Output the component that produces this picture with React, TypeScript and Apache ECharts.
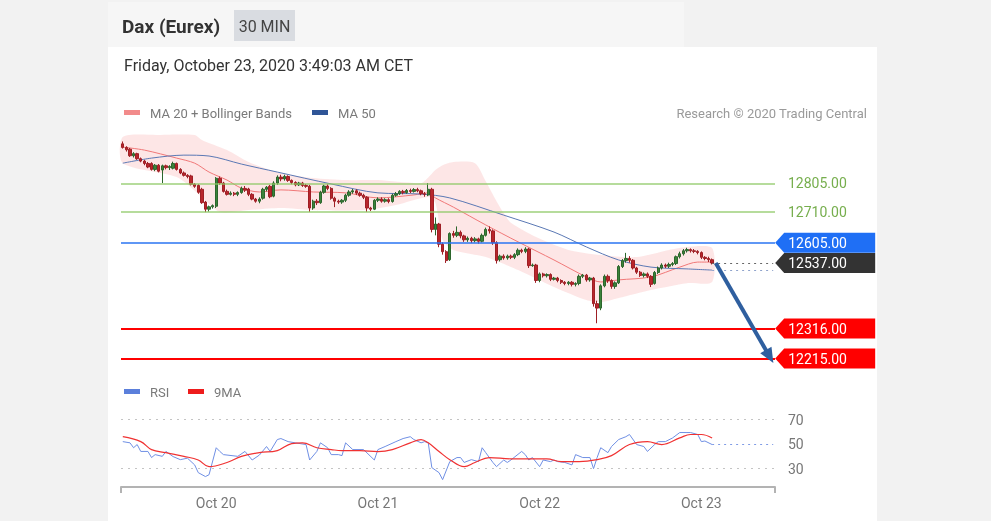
import React, { useEffect, useRef } from 'react';
import * as echarts from 'echarts';

const FONT = 'Roboto, "Liberation Sans", Arial, sans-serif';

const instrument = 'Dax (Eurex)';
const timeframe = '30 MIN';
const timestamp = 'Friday, October 23, 2020 3:49:03 AM CET';
const copyright = 'Research © 2020 Trading Central';
const mainLegend = ['MA 20 + Bollinger Bands', 'MA 50'];
const rsiLegend = ['RSI', '9MA'];

const dayLabels = ['Oct 20', 'Oct 21', 'Oct 22', 'Oct 23'];
const dayStartIndex = [26, 71, 116, 161];
const CATEGORY_COUNT = 182;

// [open, close, low, high] per 30-min bar
const candles: number[][] = [
  [12938, 12926, 12922, 12946], [12926, 12918, 12912, 12930], [12920, 12898, 12894, 12924], [12898, 12905, 12892, 12910],
  [12905, 12888, 12884, 12908], [12888, 12880, 12876, 12892], [12880, 12872, 12866, 12884], [12872, 12860, 12856, 12877],
  [12872, 12852, 12848, 12876], [12852, 12866, 12846, 12870], [12866, 12846, 12842, 12870], [12850, 12864, 12806, 12868],
  [12864, 12858, 12852, 12868], [12858, 12862, 12850, 12866], [12856, 12872, 12852, 12878], [12872, 12852, 12848, 12875],
  [12852, 12840, 12836, 12856], [12840, 12832, 12828, 12845], [12832, 12828, 12822, 12836], [12830, 12802, 12798, 12834],
  [12802, 12795, 12790, 12806], [12798, 12775, 12770, 12802], [12785, 12740, 12736, 12790], [12742, 12718, 12708, 12746],
  [12718, 12726, 12710, 12730], [12726, 12730, 12720, 12734], [12728, 12822, 12722, 12826], [12822, 12806, 12800, 12828],
  [12806, 12778, 12774, 12810], [12778, 12768, 12764, 12784], [12768, 12772, 12764, 12778], [12772, 12768, 12762, 12776],
  [12768, 12774, 12762, 12778], [12774, 12788, 12770, 12794], [12788, 12782, 12776, 12796], [12786, 12768, 12762, 12790],
  [12768, 12752, 12748, 12772], [12752, 12745, 12740, 12756], [12745, 12752, 12738, 12758], [12755, 12785, 12750, 12790],
  [12785, 12792, 12778, 12796], [12795, 12760, 12755, 12800], [12762, 12806, 12758, 12812], [12806, 12826, 12800, 12832],
  [12826, 12820, 12812, 12834], [12820, 12828, 12814, 12834], [12828, 12815, 12810, 12832], [12815, 12808, 12802, 12818],
  [12808, 12800, 12795, 12812], [12800, 12806, 12796, 12810], [12806, 12798, 12793, 12810], [12798, 12795, 12790, 12803],
  [12795, 12722, 12709, 12800], [12722, 12745, 12716, 12750], [12745, 12740, 12732, 12752], [12740, 12775, 12736, 12780],
  [12775, 12796, 12770, 12800], [12796, 12788, 12782, 12802], [12788, 12755, 12750, 12792], [12755, 12745, 12725, 12760],
  [12745, 12742, 12736, 12750], [12742, 12748, 12736, 12752], [12748, 12765, 12742, 12770], [12765, 12776, 12760, 12782],
  [12776, 12780, 12770, 12786], [12780, 12772, 12766, 12785], [12772, 12765, 12760, 12777], [12765, 12758, 12752, 12770],
  [12758, 12722, 12709, 12762], [12722, 12718, 12712, 12726], [12718, 12748, 12715, 12752], [12748, 12752, 12742, 12758],
  [12752, 12745, 12740, 12758], [12745, 12750, 12740, 12755], [12750, 12744, 12738, 12755], [12744, 12765, 12740, 12770],
  [12765, 12770, 12760, 12776], [12770, 12778, 12766, 12782], [12778, 12774, 12768, 12783], [12774, 12781, 12770, 12786],
  [12781, 12778, 12772, 12787], [12778, 12784, 12774, 12789], [12784, 12780, 12775, 12790], [12780, 12770, 12765, 12784],
  [12770, 12768, 12760, 12776], [12766, 12785, 12762, 12806], [12785, 12650, 12640, 12790], [12650, 12668, 12630, 12690],
  [12668, 12600, 12590, 12672], [12600, 12575, 12565, 12606], [12575, 12545, 12537, 12580], [12548, 12636, 12544, 12640],
  [12636, 12630, 12622, 12645], [12630, 12640, 12624, 12660], [12640, 12628, 12620, 12646], [12628, 12615, 12608, 12632],
  [12615, 12620, 12608, 12626], [12620, 12612, 12604, 12625], [12612, 12618, 12606, 12624], [12618, 12610, 12602, 12622],
  [12610, 12630, 12606, 12636], [12630, 12650, 12626, 12656], [12650, 12645, 12636, 12660], [12645, 12605, 12598, 12650],
  [12605, 12545, 12535, 12610], [12548, 12560, 12542, 12565], [12560, 12554, 12548, 12566], [12554, 12560, 12548, 12565],
  [12560, 12556, 12550, 12565], [12556, 12565, 12550, 12570], [12565, 12580, 12560, 12586], [12580, 12576, 12570, 12585],
  [12576, 12584, 12570, 12590], [12584, 12528, 12520, 12588], [12528, 12530, 12524, 12535], [12530, 12478, 12470, 12534],
  [12478, 12500, 12472, 12505], [12500, 12494, 12488, 12504], [12494, 12498, 12488, 12502], [12498, 12482, 12476, 12502],
  [12482, 12486, 12478, 12490], [12486, 12478, 12472, 12490], [12478, 12472, 12466, 12482], [12472, 12468, 12462, 12476],
  [12468, 12472, 12462, 12476], [12472, 12465, 12458, 12476], [12465, 12468, 12458, 12472], [12468, 12492, 12462, 12498],
  [12492, 12496, 12486, 12500], [12496, 12480, 12474, 12500], [12480, 12486, 12474, 12490], [12486, 12400, 12390, 12490],
  [12400, 12385, 12334, 12410], [12385, 12460, 12378, 12465], [12460, 12492, 12455, 12498], [12492, 12478, 12470, 12498],
  [12478, 12458, 12450, 12482], [12458, 12470, 12450, 12475], [12470, 12525, 12466, 12530], [12525, 12545, 12520, 12550],
  [12545, 12552, 12538, 12571], [12552, 12546, 12538, 12560], [12546, 12520, 12515, 12550], [12520, 12506, 12500, 12524],
  [12506, 12495, 12490, 12510], [12495, 12500, 12488, 12505], [12500, 12492, 12486, 12505], [12492, 12465, 12456, 12496],
  [12468, 12505, 12464, 12510], [12505, 12520, 12500, 12525], [12520, 12530, 12515, 12536], [12530, 12526, 12520, 12535],
  [12526, 12532, 12520, 12538], [12532, 12535, 12526, 12540], [12535, 12558, 12530, 12562], [12558, 12568, 12552, 12575],
  [12568, 12578, 12562, 12584], [12578, 12582, 12572, 12588], [12582, 12578, 12572, 12586], [12578, 12576, 12570, 12584],
  [12576, 12572, 12566, 12580], [12572, 12556, 12550, 12576], [12556, 12552, 12546, 12560], [12552, 12548, 12540, 12558],
  [12548, 12537, 12532, 12552],
];

// indicator readings: [bar index, value]
const ma20Points: number[][] = [
  [0, 12927], [6, 12917], [15, 12890], [20, 12873], [24, 12843], [29, 12816], [33, 12789], [38, 12776], [44, 12783],
  [53, 12776], [62, 12773], [71, 12756], [81, 12766], [85, 12773], [87, 12756], [92, 12725], [101, 12665], [110, 12608],
  [120, 12547], [129, 12490], [133, 12473], [138, 12480], [147, 12490], [155, 12523], [160, 12540], [164, 12540],
];
const ma50Points: number[][] = [
  [0, 12873], [8, 12890], [17, 12900], [24, 12897], [33, 12870], [43, 12843], [58, 12803], [71, 12773], [83, 12769],
  [91, 12756], [106, 12698], [120, 12641], [129, 12591], [138, 12547], [147, 12523], [157, 12517], [164, 12513],
];
const bbUpper: number[][] = [
  [0, 12961], [10, 12968], [20, 12968], [22, 12951], [29, 12917], [35, 12877], [44, 12840], [53, 12823], [62, 12816],
  [71, 12816], [83, 12806], [85, 12825], [87, 12850], [89, 12866], [92, 12877], [98, 12873], [101, 12812], [104, 12745],
  [106, 12705], [108, 12672], [115, 12624], [124, 12581], [133, 12564], [143, 12557], [152, 12581], [157, 12591], [164, 12587],
];
const bbLower: number[][] = [
  [0, 12873], [15, 12826], [22, 12759], [27, 12709], [35, 12715], [44, 12722], [53, 12715], [67, 12715], [76, 12732],
  [85, 12759], [87, 12739], [89, 12614], [92, 12581], [101, 12557], [110, 12513], [120, 12456], [129, 12412], [133, 12405],
  [138, 12419], [147, 12446], [157, 12469], [164, 12473],
];
const rsiPoints: number[][] = [
  [0, 52], [2, 51], [3, 47], [4, 49.6], [5, 44], [7, 44], [8, 39], [9, 41.4], [11, 40], [12, 44], [14, 39.8], [16, 37.3],
  [18, 38.5], [20, 33], [21, 26.7], [23, 23.5], [24, 25], [26, 47], [27, 44], [28, 41.4], [32, 40], [34, 44], [36, 37],
  [38, 41], [40, 48], [41, 44], [43, 53.7], [44, 54.5], [46, 52], [48, 51], [51, 49.6], [52, 37], [54, 44], [55, 51],
  [57, 47], [58, 41.4], [60, 41.4], [61, 40.6], [62, 51], [64, 45.5], [67, 45.5], [70, 37], [71, 45.5], [73, 48],
  [76, 52], [78, 54.5], [80, 56], [81, 53.7], [83, 51], [84, 52], [85, 51], [86, 30.8], [88, 26.7], [89, 21], [91, 35.7],
  [93, 39], [94, 39], [95, 35], [97, 37.3], [99, 35.7], [100, 47], [101, 43], [103, 35], [104, 31.6], [106, 37], [107, 35],
  [108, 37], [111, 44], [112, 41.4], [113, 37], [114, 39], [116, 31.6], [117, 37], [119, 35.7], [120, 37], [121, 35.7],
  [123, 35], [125, 33], [126, 41.4], [128, 39], [130, 39], [131, 30], [132, 39], [133, 47], [135, 43], [136, 48],
  [138, 53.7], [140, 56], [141, 57.8], [143, 49.6], [145, 48], [146, 44], [148, 49.6], [149, 52], [151, 52], [153, 55],
  [155, 59.4], [157, 59.4], [158, 59.4], [160, 57.8], [161, 52], [162, 52.5], [164, 49.6],
];
const rsiMaPoints: number[][] = [
  [0, 56], [5, 52], [8, 45.5], [12, 43], [17, 40], [21, 37], [24, 31.6], [29, 35], [33, 40], [38, 43], [43, 44.7],
  [47, 50.4], [50, 51], [54, 47], [58, 45.5], [61, 44.7], [66, 44.7], [71, 43.9], [75, 45.5], [80, 51], [83, 53.7],
  [85, 51], [88, 44], [91, 37.3], [95, 31.6], [98, 35], [102, 39], [108, 38], [118, 38], [122, 35.7], [127, 35.7],
  [132, 37.3], [136, 40.6], [141, 49.6], [146, 52], [150, 49.6], [155, 55], [158, 57.8], [161, 57.8], [164, 55],
];

const resistanceLevels = [12805, 12710];
const pivotLevel = 12605;
const lastPrice = 12537;
const supportLevels = [12316, 12215];
const lastMa50 = 12513;
const arrowTarget = 12222;
const rsiBands = [70, 30];
const rsiTickLabels = [30, 50, 70];
const lastRsi = 49.6;

const TAG = 'path://M0,10L9,0L100,0L100,20L9,20Z';

function buildOption(): any {
  const categories = Array.from({ length: CATEGORY_COUNT }, (_, i) => {
    const k = dayStartIndex.indexOf(i);
    return k >= 0 ? dayLabels[k] : 'b' + i;
  });
  const lastIdx = candles.length - 1;
  const edgeIdx = CATEGORY_COUNT - 1;

  const tag = (value: number, color: string) => ({
    coord: [edgeIdx, value],
    value,
    itemStyle: { color },
  });

  const legendItem = (x: number, y: number, color: string, text: string) => [
    { type: 'rect', shape: { x, y: y - 3, width: 16, height: 5 }, style: { fill: color }, silent: true },
    {
      type: 'text', x: x + 26, y, silent: true,
      style: { text, fontSize: 13, fontFamily: FONT, fill: '#7a7a7a', textVerticalAlign: 'middle' },
    },
  ];

  return {
    animation: false,
    graphic: [
      { type: 'rect', shape: { x: 0, y: 0, width: 991, height: 521 }, style: { fill: '#f2f2f2' }, silent: true },
      { type: 'rect', shape: { x: 108, y: 2, width: 576, height: 45 }, style: { fill: '#f6f6f6' }, silent: true },
      { type: 'rect', shape: { x: 108, y: 47, width: 769, height: 474 }, style: { fill: '#ffffff' }, silent: true },
      { type: 'rect', shape: { x: 234, y: 10, width: 61, height: 31 }, style: { fill: '#d9dce1' }, silent: true },
      {
        type: 'text', x: 122, y: 26, silent: true,
        style: { text: instrument, fontSize: 19, fontWeight: 'bold', fontFamily: FONT, fill: '#333', textVerticalAlign: 'middle' },
      },
      {
        type: 'text', x: 264.5, y: 26, silent: true,
        style: { text: timeframe, fontSize: 16, fontFamily: FONT, fill: '#444', textAlign: 'center', textVerticalAlign: 'middle' },
      },
      {
        type: 'text', x: 124, y: 65, silent: true,
        style: { text: timestamp, fontSize: 16, fontFamily: FONT, fill: '#333', textVerticalAlign: 'middle' },
      },
      {
        type: 'text', x: 867, y: 113, silent: true,
        style: { text: copyright, fontSize: 13, fontFamily: FONT, fill: '#9a9a9a', textAlign: 'right', textVerticalAlign: 'middle' },
      },
      ...legendItem(124, 113, '#f28b8b', mainLegend[0]),
      ...legendItem(312, 113, '#2f5597', mainLegend[1]),
      ...legendItem(124, 392, '#5b7fdb', rsiLegend[0]),
      ...legendItem(188, 392, '#ee1c1c', rsiLegend[1]),
    ],
    grid: [
      { left: 121, top: 129, width: 654, height: 240 },
      { left: 121, top: 395, width: 654, height: 92 },
    ],
    xAxis: [
      { type: 'category', gridIndex: 0, data: categories, show: false },
      {
        type: 'category', gridIndex: 1, data: categories,
        axisLine: { lineStyle: { color: '#b3b3b3', width: 2 } },
        axisTick: { show: true, interval: (i: number) => i === 0, length: 6, lineStyle: { color: '#b3b3b3', width: 2 } },
        axisLabel: {
          interval: (i: number) => dayStartIndex.includes(i),
          color: '#777', fontSize: 14, fontFamily: FONT, margin: 9,
        },
        splitLine: { show: false },
      },
    ],
    yAxis: [
      { type: 'value', gridIndex: 0, min: 12180, max: 12988, show: false },
      {
        type: 'value', gridIndex: 1, min: 15, max: 90, interval: 5, position: 'right',
        axisLine: { show: false }, axisTick: { show: false }, splitLine: { show: false },
        axisLabel: {
          formatter: (v: number) => (rsiTickLabels.includes(v) ? String(v) : ''),
          color: '#777', fontSize: 14, fontFamily: FONT, margin: 13,
        },
      },
    ],
    series: [
      {
        type: 'custom', name: 'Bollinger', xAxisIndex: 0, yAxisIndex: 0, z: 1, silent: true,
        data: [[0, bbUpper[0][1]]],
        renderItem: (_p: any, api: any) => {
          const pts = bbUpper.map((p) => api.coord(p)).concat(bbLower.slice().reverse().map((p) => api.coord(p)));
          return { type: 'polygon', shape: { points: pts, smooth: 0.25 }, style: { fill: 'rgba(247,140,140,0.22)' } };
        },
      },
      {
        type: 'line', name: mainLegend[0], xAxisIndex: 0, yAxisIndex: 0, z: 2, data: ma20Points,
        showSymbol: false, smooth: 0.3, silent: true,
        lineStyle: { color: '#f07878', width: 1 },
      },
      {
        type: 'line', name: mainLegend[1], xAxisIndex: 0, yAxisIndex: 0, z: 2, data: ma50Points,
        showSymbol: false, smooth: 0.3, silent: true,
        lineStyle: { color: '#5a78b4', width: 1 },
        markLine: {
          silent: true, symbol: 'none', animation: false,
          data: [
            ...resistanceLevels.map((v) => ({
              yAxis: v,
              lineStyle: { color: '#8cc863', width: 1.5, type: 'solid', opacity: 0.85 },
              label: { show: true, position: 'end', distance: 13, formatter: v.toFixed(2), color: '#5ea02e', fontSize: 14, fontFamily: FONT },
            })),
            { yAxis: pivotLevel, lineStyle: { color: '#2a74f2', width: 1.5, type: 'solid', opacity: 1 }, label: { show: false } },
            ...supportLevels.map((v) => ({
              yAxis: v, lineStyle: { color: '#ff0000', width: 2, type: 'solid', opacity: 1 }, label: { show: false },
            })),
            [
              { coord: [lastIdx, lastPrice], lineStyle: { color: '#666', width: 1, type: [2, 4] }, label: { show: false } },
              { coord: [edgeIdx, lastPrice] },
            ],
            [
              { coord: [lastIdx, lastMa50], lineStyle: { color: '#8fa3cc', width: 1, type: [2, 4] }, label: { show: false } },
              { coord: [edgeIdx, lastMa50] },
            ],
          ],
        },
        markPoint: {
          silent: true, symbol: TAG, symbolSize: [100, 20], symbolKeepAspect: false, symbolOffset: [52, 0],
          label: {
            show: true, position: 'insideLeft', distance: 13, color: '#fff', fontSize: 14, fontFamily: FONT,
            formatter: (p: any) => Number(p.value).toFixed(2),
          },
          data: [
            tag(pivotLevel, '#1f6ff5'),
            tag(lastPrice, '#333333'),
            tag(supportLevels[0], '#ff0000'),
            tag(supportLevels[1], '#ff0000'),
          ],
        },
      },
      {
        type: 'candlestick', name: 'Dax', xAxisIndex: 0, yAxisIndex: 0, z: 3, data: candles, silent: true,
        barWidth: '80%',
        itemStyle: { color: '#3b833b', color0: '#b8262c', borderColor: '#2c662c', borderColor0: '#9e1f25', borderWidth: 1 },
        markLine: {
          silent: true, symbol: ['none', 'triangle'], symbolSize: [13, 15],
          lineStyle: { color: '#2f5f9f', width: 4, type: 'solid' },
          label: { show: false },
          data: [[{ coord: [lastIdx + 1, lastPrice] }, { coord: [edgeIdx - 1, arrowTarget] }]],
        },
      },
      {
        type: 'line', name: rsiLegend[0], xAxisIndex: 1, yAxisIndex: 1, data: rsiPoints, z: 2,
        showSymbol: false, silent: true,
        lineStyle: { color: '#6f8fe4', width: 1 },
        markLine: {
          silent: true, symbol: 'none',
          data: [
            ...rsiBands.map((v) => ({ yAxis: v, lineStyle: { color: '#c4c4c4', width: 1, type: [2, 5] }, label: { show: false } })),
            [
              { coord: [lastIdx, lastRsi], lineStyle: { color: '#7f9be6', width: 1, type: [2, 4] }, label: { show: false } },
              { coord: [edgeIdx, lastRsi] },
            ],
          ],
        },
      },
      {
        type: 'line', name: rsiLegend[1], xAxisIndex: 1, yAxisIndex: 1, data: rsiMaPoints, z: 3,
        showSymbol: false, smooth: 0.4, silent: true,
        lineStyle: { color: '#f03232', width: 1.2 },
      },
    ],
  };
}

export default function App() {
  const ref = useRef<HTMLDivElement>(null);
  useEffect(() => {
    const chart = echarts.init(ref.current!, null, { renderer: 'svg' });
    chart.setOption(buildOption());
    return () => chart.dispose();
  }, []);
  return <div ref={ref} style={{ position: 'fixed', left: 0, top: 0, width: 991, height: 521 }} />;
}
